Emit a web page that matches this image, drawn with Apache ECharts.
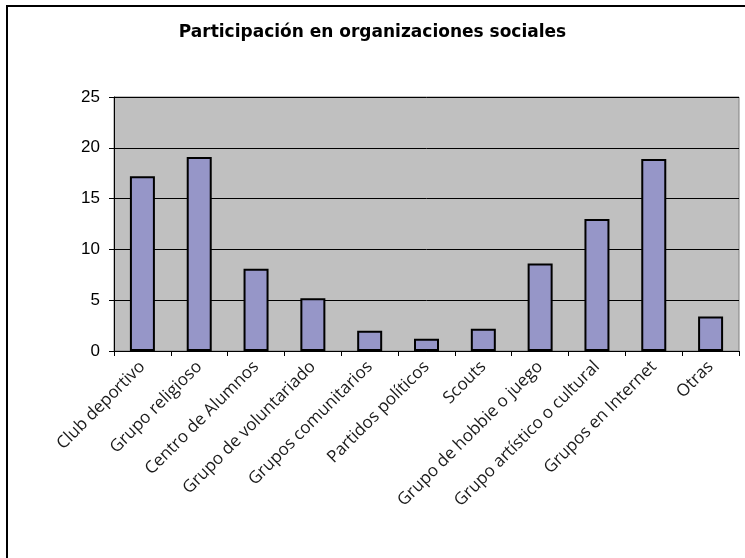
<!DOCTYPE html>
<html><head><meta charset="utf-8">
<script src="https://cdn.jsdelivr.net/npm/echarts@6/dist/echarts.min.js"></script>
<style>html,body{margin:0;padding:0;background:#fff}#c{width:745px;height:558px}</style>
</head><body><div id="c"></div>
<script>
const categories = ["Club deportivo","Grupo religioso","Centro de Alumnos","Grupo de voluntariado","Grupos comunitarios","Partidos políticos","Scouts","Grupo de hobbie o juego","Grupo artístico o cultural","Grupos en Internet","Otras"];
const values = [17.2, 19.1, 8.1, 5.2, 2.0, 1.2, 2.2, 8.6, 13.0, 18.9, 3.4];
const yTicks = [0, 5, 10, 15, 20, 25];
const title = "Participación en organizaciones sociales";

const chart = echarts.init(document.getElementById('c'));
chart.setOption({
  animation: false,
  title: {
    text: title, left: 'center', top: 19,
    textStyle: {fontFamily: 'DejaVu Sans', fontWeight: 'bold', fontSize: 17, color: '#000'}
  },
  graphic: [{
    type: 'rect', z: -10,
    shape: {x: 7, y: 6, width: 800, height: 600},
    style: {fill: 'none', stroke: '#000', lineWidth: 2}
  }],
  grid: {left: 114, right: 6, top: 97, bottom: 207, backgroundColor: '#c0c0c0', show: true, borderColor: '#808080', borderWidth: 1},
  xAxis: {
    type: 'category', data: categories,
    axisLine: {lineStyle: {color: '#000', width: 1}},
    axisTick: {show: true, length: 5, lineStyle: {color: '#000'}},
    axisLabel: {rotate: 45, fontFamily: 'Open Sans', fontSize: 17, color: '#1a1a1a', margin: 13, interval: 0}
  },
  yAxis: {
    type: 'value', min: yTicks[0], max: yTicks[yTicks.length - 1], interval: 5,
    axisLine: {show: true, lineStyle: {color: '#000'}},
    axisTick: {show: true, length: 5, lineStyle: {color: '#000'}},
    axisLabel: {fontFamily: 'Liberation Sans', fontSize: 17, color: '#000', margin: 14},
    splitLine: {show: true, lineStyle: {color: '#000', width: 1}}
  },
  series: [{
    type: 'bar', data: values, barWidth: '44%',
    itemStyle: {color: '#9696c8', borderColor: '#000', borderWidth: 2}
  }]
});
</script></body></html>
